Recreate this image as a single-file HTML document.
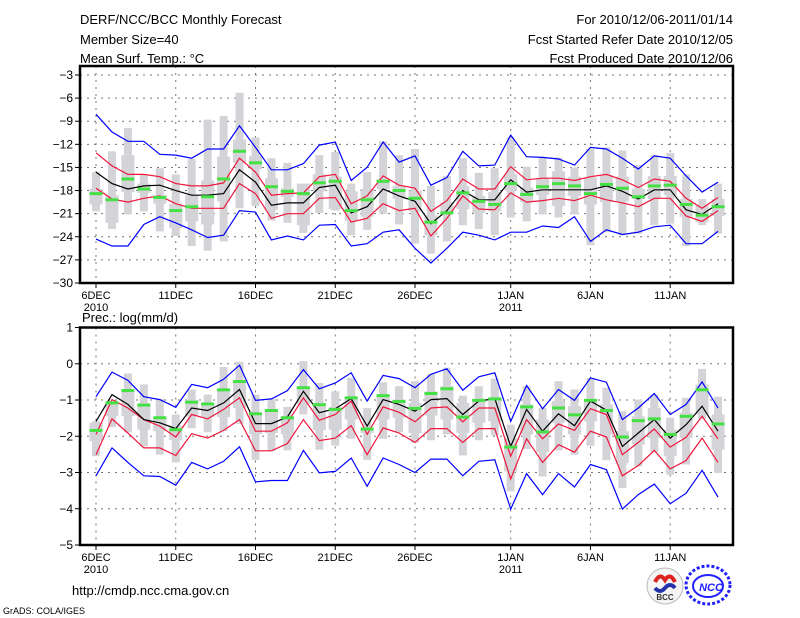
<!DOCTYPE html>
<html><head><meta charset="utf-8"><style>
html,body{margin:0;padding:0;background:#fff;}
svg{display:block;font-family:"Liberation Sans","DejaVu Sans",sans-serif;}
</style></head><body>
<svg id="chart" width="800" height="618" viewBox="0 0 800 618" xmlns="http://www.w3.org/2000/svg">
<rect width="800" height="618" fill="#fff"/>
<g font-size="13" fill="#000">
<text x="80" y="24">DERF/NCC/BCC Monthly Forecast</text>
<text x="80" y="44">Member Size=40</text>
<text x="80" y="63">Mean Surf. Temp.: °C</text>
<text x="733" y="24" text-anchor="end">For 2010/12/06-2011/01/14</text>
<text x="733" y="44" text-anchor="end">Fcst Started Refer Date 2010/12/05</text>
<text x="733" y="63" text-anchor="end">Fcst Produced Date 2010/12/06</text>
<text x="82" y="322">Prec.: log(mm/d)</text>
<text x="72" y="595">http://cmdp.ncc.cma.gov.cn</text>
<text x="3" y="614" font-size="9">GrADS: COLA/IGES</text>
</g>
<g id="top"></g>
<g id="bot"></g>
<g>
<circle cx="665" cy="586" r="18" fill="#f4f4f4" stroke="#bbb"/>
<path d="M655 582 q5 -10 10 -2 q5 -8 10 2" stroke="#d22" stroke-width="4" fill="none"/>
<path d="M655 588 q5 6 10 0 q5 -6 10 0" stroke="#23a" stroke-width="4" fill="none"/>
<text x="665" y="600" font-size="8" font-weight="bold" text-anchor="middle" fill="#333">BCC</text>
</g>
<g>
<ellipse cx="708" cy="585" rx="22" ry="19" fill="none" stroke="#22f" stroke-width="3" stroke-dasharray="3 2"/>
<ellipse cx="708" cy="586" rx="15" ry="11" fill="none" stroke="#22f" stroke-width="2"/>
<text x="711" y="591" font-size="11" font-weight="bold" font-style="italic" text-anchor="middle" fill="#22f">NCC</text>
</g>
</svg>
<script>
// ---- Temperature panel data (°C) ----
const days = ["6DEC","","","","","11DEC","","","","","16DEC","","","","","21DEC","","","","","26DEC","","","","","","1JAN","","","","","6JAN","","","","","11JAN","","",""];
const tTicks = [-3,-6,-9,-12,-15,-18,-21,-24,-27,-30];
const tBlueHi = [-8.1,-10.4,-11.6,-11.6,-13.3,-13.4,-13.8,-12.6,-12.6,-9.6,-12.4,-15.3,-15.3,-14.5,-12.1,-11.7,-16.7,-15.0,-11.7,-14.3,-13.5,-17.3,-16.3,-12.9,-14.8,-14.7,-10.8,-13.6,-13.7,-13.9,-14.7,-12.4,-12.6,-13.8,-15.2,-13.5,-13.8,-16.1,-18.2,-16.9];
const tRedHi = [-13.1,-14.8,-15.9,-15.9,-16.2,-17.1,-17.4,-17.4,-17.0,-13.8,-15.6,-18.6,-18.4,-18.3,-16.2,-15.9,-19.7,-18.7,-16.1,-17.3,-17.7,-20.7,-19.3,-16.5,-17.8,-17.8,-14.9,-16.6,-16.4,-16.4,-16.7,-16.2,-15.9,-16.6,-17.6,-16.5,-16.8,-19.0,-20.3,-18.9];
const tMean = [-15.6,-17.1,-17.8,-17.4,-17.3,-18.0,-18.6,-18.6,-18.4,-15.3,-16.9,-19.9,-19.6,-19.6,-17.6,-17.3,-20.9,-20.1,-17.8,-18.7,-19.4,-22.3,-20.6,-18.0,-19.2,-19.2,-16.6,-18.2,-17.9,-17.9,-17.9,-17.9,-17.4,-18.1,-19.1,-17.9,-17.9,-20.5,-21.1,-19.7];
const tRedLo = [-17.7,-19.1,-19.5,-19.0,-18.7,-19.7,-20.3,-20.3,-20.3,-17.1,-18.4,-21.6,-21.0,-21.0,-19.0,-18.9,-22.1,-21.6,-19.7,-20.6,-20.3,-23.9,-21.6,-18.7,-20.4,-20.5,-18.3,-19.5,-19.3,-19.0,-19.3,-18.6,-19.2,-19.6,-20.1,-19.0,-19.0,-21.3,-22.0,-20.6];
const tBlueLo = [-24.3,-25.2,-25.2,-22.4,-21.4,-22.2,-23.1,-24.1,-23.8,-20.6,-20.8,-24.4,-23.9,-24.4,-22.5,-22.4,-25.2,-24.9,-23.4,-23.1,-25.5,-27.4,-25.5,-23.4,-23.8,-24.4,-23.4,-23.4,-22.6,-22.8,-21.4,-24.6,-23.1,-23.7,-23.4,-22.7,-22.5,-24.9,-24.9,-23.3];
const tWhiskTop = [-15.6,-12.9,-9.9,-15.9,-15.1,-15.9,-13.9,-8.8,-8.3,-5.3,-11.1,-13.8,-14.4,-17.1,-13.4,-13.0,-17.1,-15.6,-11.6,-13.4,-12.6,-17.4,-16.1,-13.8,-15.7,-15.1,-11.1,-14.9,-13.7,-13.7,-15.0,-12.6,-12.4,-12.8,-14.7,-13.4,-13.1,-15.9,-19.1,-17.1];
const tWhiskBot = [-20.7,-23.0,-21.1,-20.7,-23.3,-23.9,-25.2,-25.8,-24.6,-20.3,-20.0,-21.9,-22.2,-23.5,-20.9,-20.6,-23.8,-23.1,-21.0,-22.4,-24.9,-26.2,-24.6,-22.5,-23.0,-23.8,-21.5,-22.0,-21.1,-21.5,-21.1,-25.1,-23.4,-23.8,-23.6,-22.5,-22.3,-25.2,-22.5,-23.6];
const tBoxTop = [-17.8,-18.6,-13.4,-17.1,-18.6,-19.7,-18.6,-16.7,-13.6,-11.4,-13.5,-16.4,-17.7,-17.1,-15.9,-16.2,-18.1,-17.8,-16.5,-17.4,-18.0,-21.2,-19.5,-17.4,-18.7,-18.2,-15.9,-17.6,-16.4,-15.5,-16.2,-16.3,-16.0,-16.2,-17.8,-16.1,-16.1,-19.1,-19.9,-19.1];
const tBoxBot = [-19.8,-22.2,-18.2,-18.3,-19.7,-22.9,-22.0,-22.4,-19.4,-14.4,-15.2,-20.5,-18.8,-22.5,-18.1,-20.4,-21.9,-21.4,-17.8,-19.1,-20.7,-23.8,-21.1,-20.4,-20.9,-20.7,-18.0,-19.5,-18.6,-20.0,-18.7,-19.8,-19.5,-19.4,-19.1,-19.1,-18.6,-21.4,-22.1,-21.3];
const tObs = [-18.4,-19.2,-16.5,-17.8,-18.9,-20.6,-20.1,-18.8,-16.5,-12.9,-14.4,-17.5,-18.1,-18.4,-17.0,-16.8,-20.6,-19.2,-16.8,-18.0,-19.0,-22.1,-20.9,-18.3,-19.4,-19.8,-17.1,-18.5,-17.5,-17.1,-17.4,-18.4,-17.2,-17.7,-18.8,-17.4,-17.3,-19.8,-21.2,-20.1];
// ---- Precipitation panel data (log mm/d) ----
const pTicks = [1,0,-1,-2,-3,-4,-5];
const pBlueHi = [-0.91,-0.23,-0.46,-0.91,-0.99,-1.20,-0.57,-0.66,-0.43,-0.04,-1.01,-0.97,-0.74,-0.16,-0.69,-0.53,-0.25,-1.03,-0.32,-0.41,-0.66,-0.29,-0.14,-0.73,-0.36,-0.25,-1.59,-0.60,-1.24,-0.71,-1.01,-0.39,-0.51,-1.54,-1.22,-0.82,-1.40,-1.12,-0.50,-1.22];
const pRedHi = [-1.95,-0.99,-1.22,-1.54,-1.72,-2.02,-1.40,-1.52,-1.26,-0.94,-1.86,-1.86,-1.63,-0.94,-1.56,-1.40,-1.03,-1.95,-1.19,-1.34,-1.60,-1.22,-1.19,-1.60,-1.22,-1.22,-2.55,-1.54,-2.07,-1.66,-1.84,-1.24,-1.40,-2.51,-2.17,-1.80,-2.30,-2.03,-1.45,-2.07];
const pMean = [-1.59,-0.85,-1.12,-1.54,-1.63,-1.79,-1.22,-1.29,-1.08,-0.71,-1.65,-1.65,-1.47,-0.76,-1.35,-1.24,-0.96,-1.72,-0.99,-1.12,-1.31,-0.99,-0.96,-1.40,-1.03,-0.96,-2.28,-1.26,-1.86,-1.38,-1.71,-1.03,-1.28,-2.28,-1.91,-1.54,-2.05,-1.68,-1.17,-1.86];
const pRedLo = [-2.51,-1.52,-1.91,-2.32,-2.32,-2.53,-1.93,-2.05,-1.84,-1.54,-2.40,-2.40,-2.20,-1.54,-2.12,-2.05,-1.71,-2.51,-1.77,-1.91,-2.17,-1.79,-1.79,-2.17,-1.79,-1.79,-3.18,-2.07,-2.72,-2.23,-2.44,-1.86,-2.02,-3.09,-2.81,-2.39,-2.90,-2.67,-2.05,-2.72];
const pBlueLo = [-3.09,-2.32,-2.72,-3.09,-3.11,-3.35,-2.72,-2.90,-2.69,-2.29,-3.26,-3.22,-3.22,-2.39,-3.01,-2.97,-2.60,-3.38,-2.60,-2.78,-3.00,-2.63,-2.63,-3.09,-2.69,-2.65,-4.01,-3.03,-3.61,-3.03,-3.40,-2.78,-2.92,-4.01,-3.61,-3.32,-3.86,-3.57,-2.94,-3.68];
const pWhiskTop = [-1.59,-1.08,-0.27,-0.57,-0.97,-1.40,-0.71,-0.85,-0.09,0.05,-0.85,-0.97,-1.19,0.07,-0.53,-0.76,-0.39,-1.22,-0.51,-0.62,-0.48,-0.29,-0.11,-0.88,-0.62,-0.41,-1.68,-0.62,-1.22,-0.48,-0.71,-0.39,-0.66,-1.31,-0.99,-0.85,-1.49,-0.94,-0.14,-0.91];
const pWhiskBot = [-2.55,-1.75,-1.89,-2.28,-2.51,-2.72,-1.78,-1.89,-1.86,-1.66,-2.65,-2.41,-2.39,-1.40,-2.37,-2.26,-2.07,-2.65,-2.07,-1.89,-2.18,-2.11,-1.95,-2.53,-2.11,-1.98,-3.52,-2.35,-3.11,-2.39,-2.51,-2.26,-2.66,-3.43,-2.83,-2.44,-3.06,-2.78,-1.52,-3.01];
const pBoxTop = [-1.63,-1.08,-0.73,-1.12,-1.49,-1.71,-1.00,-1.08,-0.71,-0.48,-1.40,-1.31,-1.45,-0.66,-1.08,-1.19,-0.94,-1.77,-0.88,-0.99,-1.08,-0.76,-0.62,-1.08,-0.99,-0.94,-2.05,-1.12,-1.54,-1.03,-1.17,-0.99,-1.12,-1.86,-1.45,-1.22,-1.82,-1.35,-0.57,-1.40];
const pBoxBot = [-2.14,-1.45,-1.45,-1.82,-1.86,-2.11,-1.45,-1.47,-1.47,-1.22,-1.94,-1.91,-1.95,-1.12,-1.83,-1.82,-1.54,-1.91,-1.54,-1.49,-1.91,-1.43,-1.54,-1.91,-1.63,-1.59,-2.97,-1.95,-2.44,-1.63,-1.95,-1.59,-1.95,-2.74,-2.23,-2.05,-2.55,-2.05,-1.40,-2.37];
const pObs = [-1.84,-1.08,-0.74,-1.14,-1.49,-1.82,-1.06,-1.11,-0.72,-0.49,-1.38,-1.29,-1.49,-0.66,-1.13,-1.26,-0.94,-1.80,-0.88,-1.04,-1.23,-0.82,-0.69,-1.47,-1.01,-0.97,-2.30,-1.19,-1.88,-1.22,-1.41,-1.01,-1.29,-2.02,-1.57,-1.52,-1.95,-1.45,-0.72,-1.66];

const NS = "http://www.w3.org/2000/svg";
const X0 = 80, X1 = 733;
function xPos(i){ return 96 + i * 15.95; }
function mk(parent, tag, attrs){ const e = document.createElementNS(NS, tag); for (const k in attrs) e.setAttribute(k, attrs[k]); parent.appendChild(e); return e; }

function panel(g, top, bot, vmax, vmin, ticks, S, yearLabelY){
  const y = v => top + (vmax - v) / (vmax - vmin) * (bot - top);
  // grid
  ticks.forEach(t => {
    const yy = y(t);
    if (yy > top + 1 && yy < bot - 1) {
      const gl = mk(g, "line", {x1:X0, x2:X1, y1:yy, y2:yy, stroke:"#777", "stroke-width":1, "stroke-dasharray":"2 5"});
      
      
    }
    const tk = mk(g, "line", {x1:X0-5, x2:X0, y1:yy, y2:yy, stroke:"#000"});
    
    
    const tl = mk(g, "text", {x:X0-7, y:yy+4, "text-anchor":"end", "font-size":12});
    tl.textContent = t === 0 ? "0" : String(t).replace("-", "\u2212");
    
    
  });
  days.forEach((d, i) => {
    if (!d) return;
    const xx = xPos(i);
    const gl = mk(g, "line", {x1:xx, x2:xx, y1:top, y2:bot, stroke:"#777", "stroke-dasharray":"2 5"});
    
    
    const tk = mk(g, "line", {x1:xx, x2:xx, y1:bot, y2:bot+5, stroke:"#000"});
    
    
    const tl = mk(g, "text", {x:xx, y:bot+16, "text-anchor":"middle", "font-size":11});
    tl.textContent = d;
    
    
  });
  const y1 = mk(g, "text", {x:xPos(0), y:bot+28, "text-anchor":"middle", "font-size":11}); y1.textContent = "2010";
  
  
  const y2 = mk(g, "text", {x:xPos(26), y:bot+28, "text-anchor":"middle", "font-size":11}); y2.textContent = "2011";
  
  
  // bars
  S.wt.forEach((v, i) => {
    const xx = xPos(i);
    const w = mk(g, "rect", {x:xx-4, y:y(v), width:8, height:y(S.wb[i]) - y(v), fill:"#d4d4d8"});
    
    
    const b = mk(g, "rect", {x:xx-6.5, y:y(S.bt[i]), width:13, height:y(S.bb[i]) - y(S.bt[i]), fill:"#d4d4d8"});
    
    
  });
  const line = (arr, col, name) => {
    const p = mk(g, "polyline", {points: arr.map((v, i) => xPos(i).toFixed(1) + "," + y(v).toFixed(1)).join(" "), fill:"none", stroke:col, "stroke-width":1.2});
    
    
  };
  line(S.bh, "#0000ff", "upper-extreme-line");
  line(S.bl, "#0000ff", "lower-extreme-line");
  line(S.rh, "#f0163c", "upper-std-line");
  line(S.rl, "#f0163c", "lower-std-line");
  line(S.m, "#000", "ensemble-mean-line");
  S.o.forEach((v, i) => {
    const o = mk(g, "rect", {x:xPos(i)-6.5, y:y(v)-1.5, width:13, height:3, fill:"#44e044"});
    
    
  });
  const fr = mk(g, "rect", {x:X0, y:top, width:X1-X0, height:bot-top, fill:"none", stroke:"#000", "stroke-width":2.5});
  
  
}
const topScaleMax = -3 + (75-66)/7.704;
panel(document.getElementById("top"), 66, 283, topScaleMax, -30, tTicks,
  {wt:tWhiskTop, wb:tWhiskBot, bt:tBoxTop, bb:tBoxBot, bh:tBlueHi, bl:tBlueLo, rh:tRedHi, rl:tRedLo, m:tMean, o:tObs});
panel(document.getElementById("bot"), 327.5, 545, 1, -5, pTicks,
  {wt:pWhiskTop, wb:pWhiskBot, bt:pBoxTop, bb:pBoxBot, bh:pBlueHi, bl:pBlueLo, rh:pRedHi, rl:pRedLo, m:pMean, o:pObs});
</script>
</body></html>
